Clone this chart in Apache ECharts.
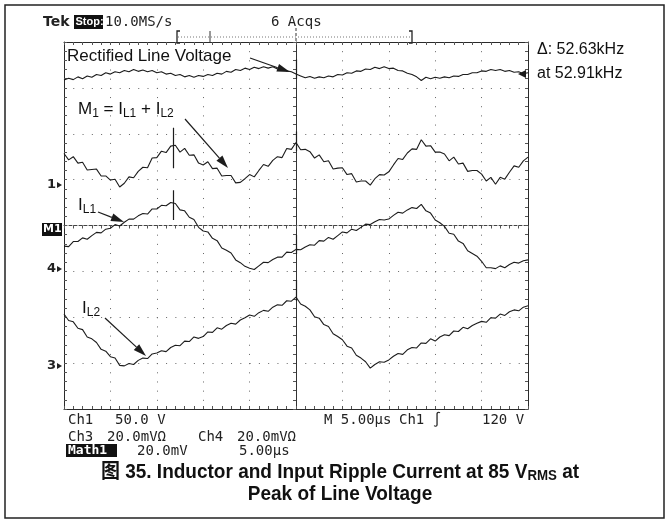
<!DOCTYPE html>
<html>
<head>
<meta charset="utf-8">
<title>Inductor and Input Ripple Current</title>
<script src="https://cdn.jsdelivr.net/npm/echarts@6/dist/echarts.min.js"></script>
<style>
  html, body { margin: 0; padding: 0; background: #fff; }
  #main { width: 669px; height: 523px; }
</style>
</head>
<body>
<div id="main"></div>
<script>
// scope record: 5 µs/div x 10 div, vertical in divisions (0 = bottom graticule line)
const timeUs = [
  0, 0.5, 1, 1.5, 2, 2.5, 3, 3.5, 4, 4.5,
  5, 5.5, 6, 6.5, 7, 7.5, 8, 8.5, 9, 9.5,
  10, 10.5, 11, 11.5, 12, 12.5, 13, 13.5, 14, 14.5,
  15, 15.5, 16, 16.5, 17, 17.5, 18, 18.5, 19, 19.5,
  20, 20.5, 21, 21.5, 22, 22.5, 23, 23.5, 24, 24.5,
  25, 25.5, 26, 26.5, 27, 27.5, 28, 28.5, 29, 29.5,
  30, 30.5, 31, 31.5, 32, 32.5, 33, 33.5, 34, 34.5,
  35, 35.5, 36, 36.5, 37, 37.5, 38, 38.5, 39, 39.5,
  40, 40.5, 41, 41.5, 42, 42.5, 43, 43.5, 44, 44.5,
  45, 45.5, 46, 46.5, 47, 47.5, 48, 48.5, 49, 49.5,
  50
];

const rectifiedLine = [
  7.17, 7.21, 7.18, 7.24, 7.20, 7.26, 7.23, 7.29, 7.27, 7.33,
  7.30, 7.35, 7.33, 7.38, 7.35, 7.40, 7.36, 7.39, 7.35, 7.38,
  7.33, 7.35, 7.30, 7.32, 7.27, 7.29, 7.24, 7.27, 7.23, 7.27,
  7.25, 7.29, 7.27, 7.32, 7.30, 7.36, 7.34, 7.40, 7.38, 7.43,
  7.40, 7.45, 7.42, 7.46, 7.43, 7.46, 7.41, 7.42, 7.37, 7.35,
  7.30, 7.26, 7.22, 7.25, 7.21, 7.24, 7.22, 7.26, 7.24, 7.29,
  7.28, 7.33, 7.32, 7.37, 7.36, 7.41, 7.40, 7.45, 7.42, 7.46,
  7.42, 7.43, 7.38, 7.37, 7.32, 7.29, 7.24, 7.16, 7.23, 7.20,
  7.23, 7.21, 7.24, 7.22, 7.26, 7.25, 7.29, 7.29, 7.33, 7.33,
  7.37, 7.36, 7.40, 7.38, 7.40, 7.36, 7.38, 7.34, 7.35, 7.31,
  7.33
];

// M1 = IL1 + IL2
const m1Sum = [
  5.57, 5.43, 5.50, 5.36, 5.38, 5.21, 5.22, 5.23, 5.08, 5.08,
  4.99, 5.01, 4.84, 4.92, 5.06, 5.04, 5.18, 5.27, 5.26, 5.47,
  5.48, 5.62, 5.59, 5.73, 5.75, 5.60, 5.68, 5.53, 5.54, 5.36,
  5.32, 5.39, 5.24, 5.25, 5.08, 5.09, 5.09, 4.93, 4.94, 5.02,
  5.11, 5.06, 5.20, 5.33, 5.29, 5.42, 5.50, 5.48, 5.68, 5.66,
  5.81, 5.65, 5.66, 5.61, 5.47, 5.54, 5.39, 5.41, 5.23, 5.25,
  5.26, 5.11, 5.13, 4.95, 4.97, 4.97, 4.88, 5.02, 5.11, 5.10,
  5.17, 5.32, 5.46, 5.44, 5.58, 5.67, 5.66, 5.87, 5.73, 5.74,
  5.60, 5.60, 5.56, 5.41, 5.49, 5.34, 5.36, 5.18, 5.20, 5.20,
  5.12, 4.97, 5.05, 4.90, 5.05, 5.01, 5.16, 5.30, 5.27, 5.41,
  5.49
];

const iL1 = [
  3.55, 3.54, 3.65, 3.65, 3.73, 3.70, 3.78, 3.85, 3.84, 3.92,
  3.94, 4.02, 3.99, 4.07, 4.14, 4.14, 4.21, 4.26, 4.25, 4.36,
  4.36, 4.44, 4.43, 4.50, 4.48, 4.34, 4.32, 4.18, 4.13, 3.96,
  3.88, 3.86, 3.72, 3.67, 3.51, 3.46, 3.40, 3.25, 3.19, 3.11,
  3.07, 3.04, 3.12, 3.20, 3.19, 3.26, 3.31, 3.31, 3.42, 3.41,
  3.48, 3.47, 3.53, 3.58, 3.57, 3.67, 3.66, 3.74, 3.70, 3.78,
  3.86, 3.84, 3.92, 3.89, 3.96, 4.03, 4.02, 4.08, 4.13, 4.12,
  4.14, 4.22, 4.29, 4.27, 4.34, 4.39, 4.37, 4.46, 4.32, 4.27,
  4.12, 4.06, 3.98, 3.83, 3.81, 3.66, 3.61, 3.45, 3.39, 3.33,
  3.22, 3.08, 3.08, 3.06, 3.12, 3.08, 3.15, 3.20, 3.18, 3.23,
  3.25
];

const iL2 = [
  2.07, 1.93, 1.90, 1.76, 1.73, 1.57, 1.53, 1.45, 1.30, 1.26,
  1.14, 1.11, 0.95, 0.94, 0.99, 0.97, 1.06, 1.11, 1.10, 1.20,
  1.22, 1.27, 1.25, 1.34, 1.39, 1.38, 1.48, 1.47, 1.57, 1.54,
  1.58, 1.68, 1.67, 1.77, 1.74, 1.82, 1.87, 1.85, 1.94, 1.99,
  2.05, 2.02, 2.10, 2.15, 2.13, 2.22, 2.27, 2.26, 2.36, 2.35,
  2.44, 2.29, 2.24, 2.16, 2.01, 1.98, 1.84, 1.80, 1.64, 1.58,
  1.51, 1.37, 1.33, 1.17, 1.11, 1.03, 0.89, 0.97, 1.03, 1.02,
  1.07, 1.15, 1.21, 1.19, 1.29, 1.34, 1.33, 1.44, 1.43, 1.53,
  1.48, 1.57, 1.62, 1.60, 1.70, 1.69, 1.78, 1.75, 1.82, 1.87,
  1.91, 1.89, 1.99, 1.98, 2.07, 2.04, 2.12, 2.16, 2.14, 2.22,
  2.25
];

// switching spikes: [time µs, top div, bottom div]
const spikes = [
  [11.75, 6.13, 5.25],
  [11.75, 4.77, 4.12],
  [25, 7.62, 7.20],
  [25, 6.05, 5.62],
  [25, 3.80, 3.38],
  [25, 2.81, 2.35]
];

const INK = '#1c1c1c';
const myChart = echarts.init(document.getElementById('main'));

function frameAxis (extra) {
  return Object.assign({
    type: 'value',
    gridIndex: 0,
    axisLine: { show: true, onZero: false, lineStyle: { color: '#2a2a2a', width: 1 } },
    axisTick: { show: true, inside: true, length: 3, lineStyle: { color: '#555' } },
    minorTick: { show: true, splitNumber: 5, length: 3, lineStyle: { color: '#555' } },
    axisLabel: { show: false },
    splitLine: { show: false }
  }, extra)
}

function centerAxis (extra) {
  return Object.assign({
    type: 'value',
    gridIndex: 1,
    axisLine: { show: true, onZero: true, lineStyle: { color: '#333', width: 1 } },
    axisTick: { show: true, length: 3, lineStyle: { color: '#555' } },
    minorTick: { show: true, splitNumber: 5, length: 3, lineStyle: { color: '#555' } },
    axisLabel: { show: false },
    splitLine: { show: false }
  }, extra)
}

// filled arrow for the annotations
function arrow (x1, y1, x2, y2) {
  const a = Math.atan2(y2 - y1, x2 - x1);
  const L = 13, W = 4;
  const bx = x2 - L * Math.cos(a), by = y2 - L * Math.sin(a);
  const px = -Math.sin(a) * W, py = Math.cos(a) * W;
  return [
    { type: 'line', shape: { x1: x1, y1: y1, x2: bx, y2: by }, style: { stroke: INK, lineWidth: 1.2 } },
    { type: 'polygon', shape: { points: [[x2, y2], [bx + px, by + py], [bx - px, by - py]] }, style: { fill: INK } }
  ]
}

function label (x, yTop, text) {
  return {
    type: 'text', x: x, y: yTop,
    style: {
      text: text,
      fill: '#111',
      verticalAlign: 'top',
      rich: {
        n: { fontSize: 17, lineHeight: 22, fontFamily: 'Liberation Sans, Arial', fill: '#111' },
        s: { fontSize: 12, lineHeight: 14, verticalAlign: 'bottom', fontFamily: 'Liberation Sans, Arial', fill: '#111' }
      }
    }
  }
}

function tek (x, y, text, extra) {
  return {
    type: 'text', x: x, y: y,
    style: Object.assign({ text: text, fill: '#222', font: '14px "DejaVu Sans Mono"', verticalAlign: 'middle' }, extra || {})
  }
}

function chMarker (x, y, text) {
  return [
    { type: 'text', x: x, y: y, style: { text: text, fill: '#222', font: 'bold 13px "DejaVu Sans"', verticalAlign: 'middle' } },
    { type: 'polygon', shape: { points: [[57, y - 3], [62, y], [57, y + 3]] }, style: { fill: '#222' } }
  ]
}

const graphics = [].concat(
  // figure frame
  [{ type: 'rect', shape: { x: 5, y: 5, width: 659, height: 513 }, style: { fill: 'none', stroke: '#222', lineWidth: 1.5 }, z: 0 }],
  // header
  [
    tek(43, 22, 'Tek', { font: 'bold 14px "DejaVu Sans"' }),
    { type: 'rect', shape: { x: 74, y: 15, width: 29, height: 14 }, style: { fill: '#111' } },
    tek(75.5, 22, 'Stop:', { fill: '#fff', font: 'bold 11px "Liberation Sans"' }),
    tek(105, 22, '10.0MS/s'),
    tek(271, 22, '6 Acqs'),
    { type: 'polyline', shape: { points: [[180, 31], [177, 31], [177, 43], [180, 43]] }, style: { stroke: '#222', lineWidth: 1.3 } },
    { type: 'polyline', shape: { points: [[409, 31], [412, 31], [412, 43], [409, 43]] }, style: { stroke: '#222', lineWidth: 1.3 } },
    { type: 'line', shape: { x1: 178, y1: 37, x2: 411, y2: 37 }, style: { stroke: '#777', lineWidth: 1, lineDash: [1, 2] } },
    { type: 'line', shape: { x1: 210, y1: 31, x2: 210, y2: 43 }, style: { stroke: '#333', lineWidth: 1 } },
    { type: 'line', shape: { x1: 296, y1: 28, x2: 296, y2: 42 }, style: { stroke: '#333', lineWidth: 1, lineDash: [3, 2] } }
  ],
  // measurement readout
  [
    { type: 'text', x: 537, y: 50, style: { text: '\u0394: 52.63kHz', font: '16px "Liberation Sans", Arial', fill: '#111', verticalAlign: 'middle' } },
    { type: 'text', x: 537, y: 74, style: { text: 'at 52.91kHz', font: '16px "Liberation Sans", Arial', fill: '#111', verticalAlign: 'middle' } }
  ],
  // trace labels and arrows
  [
    label(67, 45, '{n|Rectified Line Voltage}'),
    label(78, 98, '{n|M}{s|1}{n| = I}{s|L1}{n| + I}{s|L2}'),
    label(78, 194, '{n|I}{s|L1}'),
    label(82, 297, '{n|I}{s|L2}')
  ],
  arrow(250, 58, 290, 72),
  arrow(185, 119, 228, 168),
  arrow(98, 212, 124, 222),
  arrow(105, 318, 146, 356),
  // channel ground markers
  chMarker(47, 185, '1'),
  [
    { type: 'rect', shape: { x: 42, y: 223, width: 20, height: 13 }, style: { fill: '#111' } },
    { type: 'text', x: 43, y: 229.5, style: { text: 'M1', fill: '#fff', font: 'bold 11px "DejaVu Sans"', verticalAlign: 'middle' } }
  ],
  chMarker(47, 269, '4'),
  chMarker(47, 366, '3'),
  // trigger level marker at right edge
  [{ type: 'polygon', shape: { points: [[518, 74], [526, 70], [526, 78]] }, style: { fill: INK } }],
  // bottom readout
  [
    tek(68, 420, 'Ch1'), tek(115, 420, '50.0 V'),
    tek(324, 420, 'M 5.00\u00b5s'), tek(399, 420, 'Ch1 \u222b'), tek(482, 420, '120 V'),
    tek(68, 437, 'Ch3'), tek(107, 437, '20.0mV\u03a9'),
    tek(198, 437, 'Ch4'), tek(237, 437, '20.0mV\u03a9'),
    { type: 'rect', shape: { x: 66, y: 444, width: 51, height: 13 }, style: { fill: '#111' } },
    tek(68, 450.5, 'Math1', { fill: '#fff', font: 'bold 13px "DejaVu Sans Mono"' }),
    tek(137, 451, '20.0mV'), tek(239, 451, '5.00\u00b5s')
  ],
  // caption
  [
    {
      type: 'text', x: 340, y: 461, scaleX: 0.95,
      style: {
        text: '{c|图 35. Inductor and Input Ripple Current at 85 V}{r|RMS}{c| at}',
        align: 'center', verticalAlign: 'top',
        rich: {
          c: { fontSize: 20, lineHeight: 22, fontWeight: 'bold', fontFamily: '"Liberation Sans", "Noto Sans CJK SC"', fill: '#111' },
          r: { fontSize: 14, lineHeight: 14, verticalAlign: 'bottom', fontWeight: 'bold', fontFamily: '"Liberation Sans"', fill: '#111' }
        }
      }
    },
    { type: 'text', x: 340, y: 494, scaleX: 0.95, style: { text: 'Peak of Line Voltage', align: 'center', verticalAlign: 'middle', font: 'bold 20px "Liberation Sans"', fill: '#111' } }
  ]
);

const traceBase = {
  type: 'line', xAxisIndex: 0, yAxisIndex: 0,
  symbol: 'none', showSymbol: false, silent: true, z: 5,
  lineStyle: { color: INK, width: 1.1 }
};
const pairs = vals => timeUs.map((t, i) => [t, vals[i]]);

myChart.setOption({
  animation: false,
  backgroundColor: '#fff',
  grid: [
    { left: 64, top: 42, width: 464, height: 367 },
    { left: 64, top: 42, width: 464, height: 367 }
  ],
  xAxis: [
    frameAxis({ min: 0, max: 50, interval: 5, position: 'bottom',
      splitLine: { show: true, lineStyle: { color: '#666', width: 1, type: [1, 8.175] } } }),
    frameAxis({ min: 0, max: 50, interval: 5, position: 'top' }),
    centerAxis({ min: -5, max: 5, interval: 1, position: 'bottom',
      axisLine: { show: true, onZero: true, lineStyle: { color: '#444', width: 1, type: [3, 2] } } })
  ],
  yAxis: [
    frameAxis({ min: 0, max: 8, interval: 1, position: 'left',
      splitLine: { show: true, lineStyle: { color: '#666', width: 1, type: [1, 8.28] } } }),
    frameAxis({ min: 0, max: 8, interval: 1, position: 'right' }),
    centerAxis({ min: -4, max: 4, interval: 1, position: 'left' })
  ],
  graphic: { elements: graphics },
  series: [
    Object.assign({ name: 'Rectified Line Voltage', data: pairs(rectifiedLine) }, traceBase),
    Object.assign({ name: 'M1', data: pairs(m1Sum) }, traceBase),
    Object.assign({ name: 'IL1', data: pairs(iL1) }, traceBase),
    Object.assign({ name: 'IL2', data: pairs(iL2) }, traceBase),
    {
      name: 'spikes', type: 'lines', coordinateSystem: 'cartesian2d',
      xAxisIndex: 0, yAxisIndex: 0, silent: true, z: 6,
      lineStyle: { color: INK, width: 1.2, opacity: 1 },
      data: spikes.map(s => ({ coords: [[s[0], s[1]], [s[0], s[2]]] }))
    },
    { type: 'scatter', xAxisIndex: 2, yAxisIndex: 2, data: [], silent: true }
  ]
});
</script>
</body>
</html>
